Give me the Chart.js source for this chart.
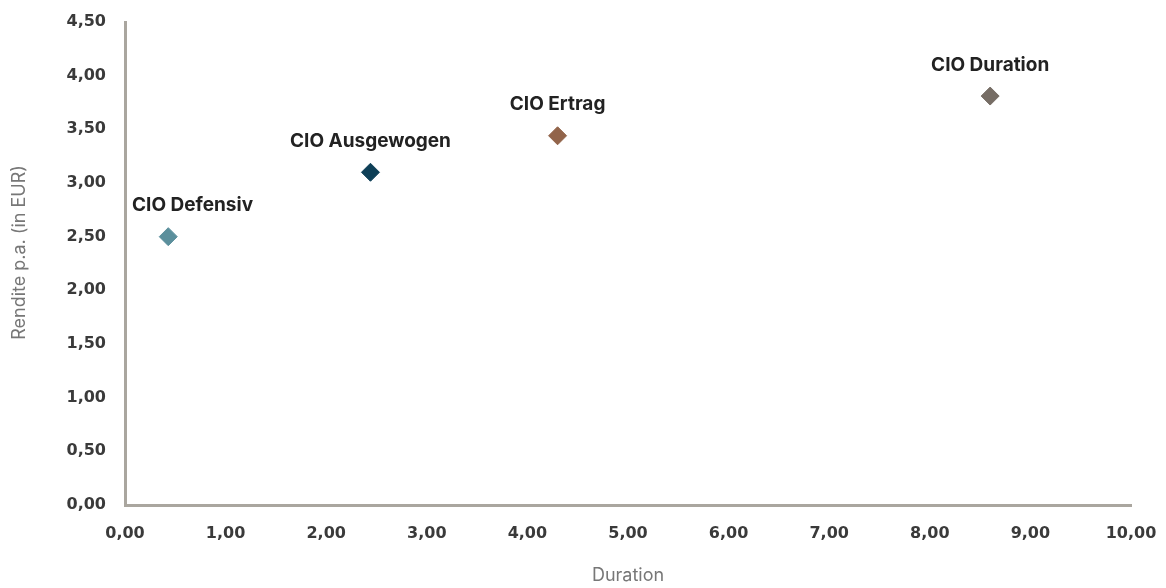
<!DOCTYPE html>
<html>
<head>
<meta charset="utf-8">
<script src="https://cdn.jsdelivr.net/npm/chart.js@4/dist/chart.umd.min.js"></script>
<style>
  html, body { margin: 0; padding: 0; background: #fff; }
  #wrap { width: 1166px; height: 588px; }
</style>
</head>
<body>
<div id="wrap"><canvas id="chart" width="1166" height="588"></canvas></div>
<script>
// Portfolios: duration (x) vs. yield p.a. in EUR (y)
const portfolios = ["CIO Defensiv", "CIO Ausgewogen", "CIO Ertrag", "CIO Duration"];
const durations = [0.43, 2.44, 4.30, 8.60];
const yields = [2.50, 3.10, 3.44, 3.81];
const colors = ["#5b8f9c", "#0e3f57", "#92644a", "#766d65"];
const xTitle = "Duration";
const yTitle = "Rendite p.a. (in EUR)";

const fmt = (v) => v.toFixed(2).replace(".", ",");

// portfolio names above the diamonds (kept inside the plot) + y axis title
const labelsPlugin = {
  id: "labelsPlugin",
  afterDatasetsDraw(chart) {
    const { ctx, chartArea } = chart;
    ctx.save();
    ctx.font = "700 19px Inter";
    ctx.fillStyle = "#222222";
    ctx.textBaseline = "middle";
    ctx.textAlign = "left";
    chart.data.datasets.forEach((ds, i) => {
      const pt = chart.getDatasetMeta(i).data[0];
      const w = ctx.measureText(ds.label).width;
      let left = pt.x - w / 2;
      if (left < chartArea.left + 7) left = chartArea.left + 7;
      ctx.fillText(ds.label, left, pt.y - 31);
    });

    // y title, centred on the height above the x axis
    ctx.font = "400 18px Inter";
    ctx.fillStyle = "#777777";
    ctx.textAlign = "center";
    ctx.translate(20, chartArea.bottom / 2);
    ctx.rotate(-Math.PI / 2);
    ctx.fillText(yTitle, 0, 0);
    ctx.restore();
  }
};

const datasets = portfolios.map((name, i) => ({
  label: name,
  data: [{ x: durations[i], y: yields[i] }],
  pointStyle: "rectRot",
  radius: 9,
  hoverRadius: 9,
  backgroundColor: colors[i],
  borderColor: colors[i],
  borderWidth: 1
}));

const tickFont = { family: "DejaVu Sans", size: 16, weight: "700" };

new Chart(document.getElementById("chart"), {
  type: "scatter",
  data: { datasets },
  options: {
    responsive: false,
    animation: false,
    layout: { padding: { left: 0, top: 22, right: 35, bottom: 0 } },
    plugins: {
      legend: { display: false },
      tooltip: { enabled: false }
    },
    scales: {
      x: {
        min: 0,
        max: 10,
        afterFit: (s) => {
          s.height = 83;
          s.paddingLeft = 0;
          s.paddingRight = 0;
        },
        grid: { display: false, drawTicks: false },
        border: { display: true, color: "#aaa69f", width: 3 },
        ticks: {
          stepSize: 1,
          padding: 19,
          color: "#3a3a3a",
          font: tickFont,
          callback: (v) => fmt(v)
        },
        title: {
          display: true,
          text: xTitle,
          color: "#777777",
          font: { family: "Inter", size: 18, weight: "400" },
          padding: { top: 0, bottom: 2 }
        }
      },
      y: {
        min: 0,
        max: 4.5,
        afterFit: (s) => {
          s.width = 125;
          s.paddingTop = 0;
          s.paddingBottom = 0;
        },
        grid: { display: false, drawTicks: false },
        border: { display: true, color: "#aaa69f", width: 3 },
        ticks: {
          stepSize: 0.5,
          padding: 19,
          color: "#3a3a3a",
          font: tickFont,
          callback: (v) => fmt(v)
        }
      }
    }
  },
  plugins: [labelsPlugin]
});
</script>
</body>
</html>
